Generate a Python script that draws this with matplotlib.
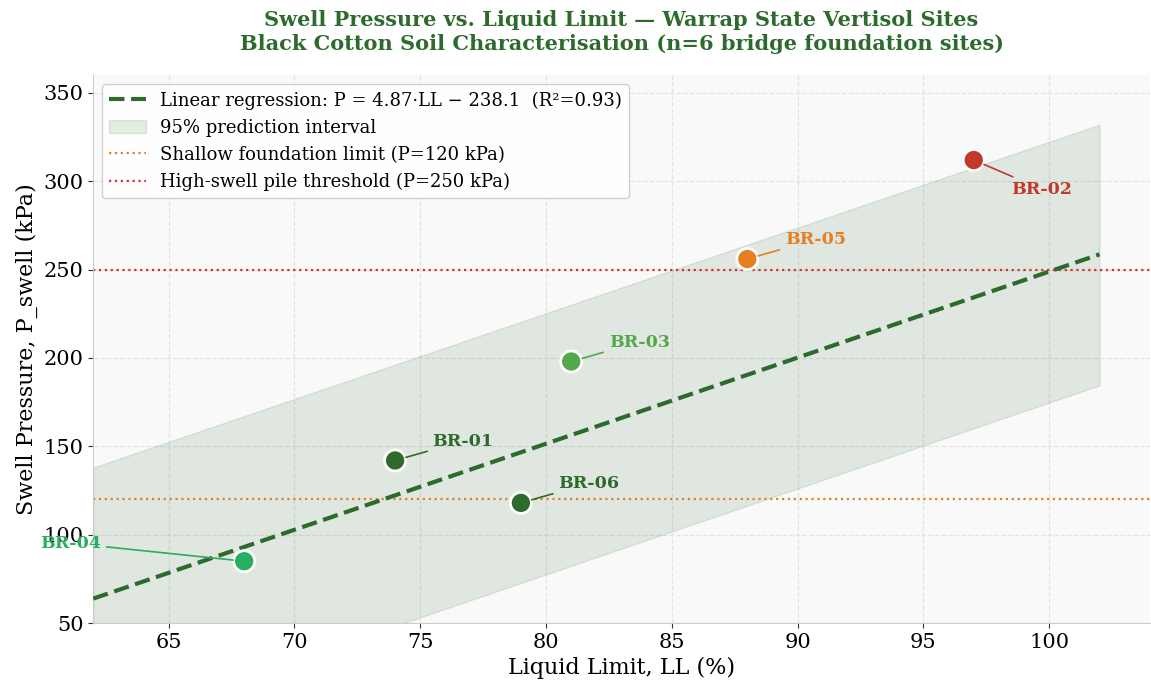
import numpy as np
import matplotlib
matplotlib.use('Agg')
import matplotlib.pyplot as plt

# site data
sites = ['BR-01', 'BR-02', 'BR-03', 'BR-04', 'BR-05', 'BR-06']
liquid_limit = [74, 97, 81, 68, 88, 79]
swell_pressure = [142, 312, 198, 85, 256, 118]
site_colors = ['#2d6a2d', '#c0392b', '#52a84a', '#27ae60', '#e67e22', '#2d6a2d']
# label offsets (points) and alignment
label_offsets = [(27, 14), (27, -21), (27, 14), (-103, 13), (27, 14), (27, 14)]
label_ha = ['left', 'left', 'left', 'right', 'left', 'left']

# regression as printed in the legend
slope = 4.87
intercept = -238.1
r2 = 0.93
fit_x = [62, 102]

# prediction band edges at the two ends
band_x = [62, 102]
band_lo = [-10, 184.5]
band_hi = [138, 332]

shallow_limit = 120
pile_limit = 250

green = '#2d6a2d'

plt.rcParams['font.family'] = 'DejaVu Serif'

fig = plt.figure(figsize=(11.51, 6.9), dpi=100)
ax = fig.add_axes([0.081, 0.097, 0.918, 0.794])
ax.set_facecolor('#f9f9f9')

ax.fill_between(band_x, band_lo, band_hi, color=green, alpha=0.12,
                label='95% prediction interval', zorder=1)
fx = np.array(fit_x, dtype=float)
ax.plot(fx, slope * fx + intercept, '--', color=green, lw=3, zorder=3,
        label='Linear regression: P = %.2f\u00b7LL \u2212 %.1f  (R\u00b2=%.2f)' % (slope, -intercept, r2))
ax.axhline(shallow_limit, color='#e67e22', ls=':', lw=1.6, zorder=2,
           label='Shallow foundation limit (P=%d kPa)' % shallow_limit)
ax.axhline(pile_limit, color='#d63031', ls=':', lw=1.6, zorder=2,
           label='High-swell pile threshold (P=%d kPa)' % pile_limit)

ax.scatter(liquid_limit, swell_pressure, s=230, c=site_colors,
           edgecolors='white', linewidths=2, zorder=5)

for i in range(len(sites)):
    ax.annotate(sites[i], (liquid_limit[i], swell_pressure[i]),
                xytext=label_offsets[i], textcoords='offset points',
                ha=label_ha[i], va='center', fontsize=12.5, fontweight='bold',
                color=site_colors[i], zorder=6,
                arrowprops=dict(arrowstyle='-', color=site_colors[i], lw=1.2,
                                shrinkA=2, shrinkB=8))

ax.set_xlim(62, 104)
ax.set_ylim(50, 360)
ax.set_xticks([65, 70, 75, 80, 85, 90, 95, 100])
ax.set_yticks([50, 100, 150, 200, 250, 300, 350])
ax.tick_params(labelsize=15, color='#333333')
ax.grid(True, ls='--', color='#e2e2e2', lw=0.9)
ax.set_axisbelow(True)
for s in ['top', 'right']:
    ax.spines[s].set_visible(False)
for s in ['left', 'bottom']:
    ax.spines[s].set_color('#cccccc')

ax.set_xlabel('Liquid Limit, LL (%)', fontsize=16)
ax.set_ylabel('Swell Pressure, P_swell (kPa)', fontsize=16)
ax.set_title('Swell Pressure vs. Liquid Limit \u2014 Warrap State Vertisol Sites\n'
             'Black Cotton Soil Characterisation (n=6 bridge foundation sites)',
             fontsize=15, fontweight='bold', color=green, pad=18, linespacing=1.25)

h, l = ax.get_legend_handles_labels()
order = [1, 0, 2, 3]
ax.legend([h[k] for k in order], [l[k] for k in order], loc='upper left',
          fontsize=13, framealpha=0.9, edgecolor='#cccccc')

fig.savefig('out.png', dpi=100)
